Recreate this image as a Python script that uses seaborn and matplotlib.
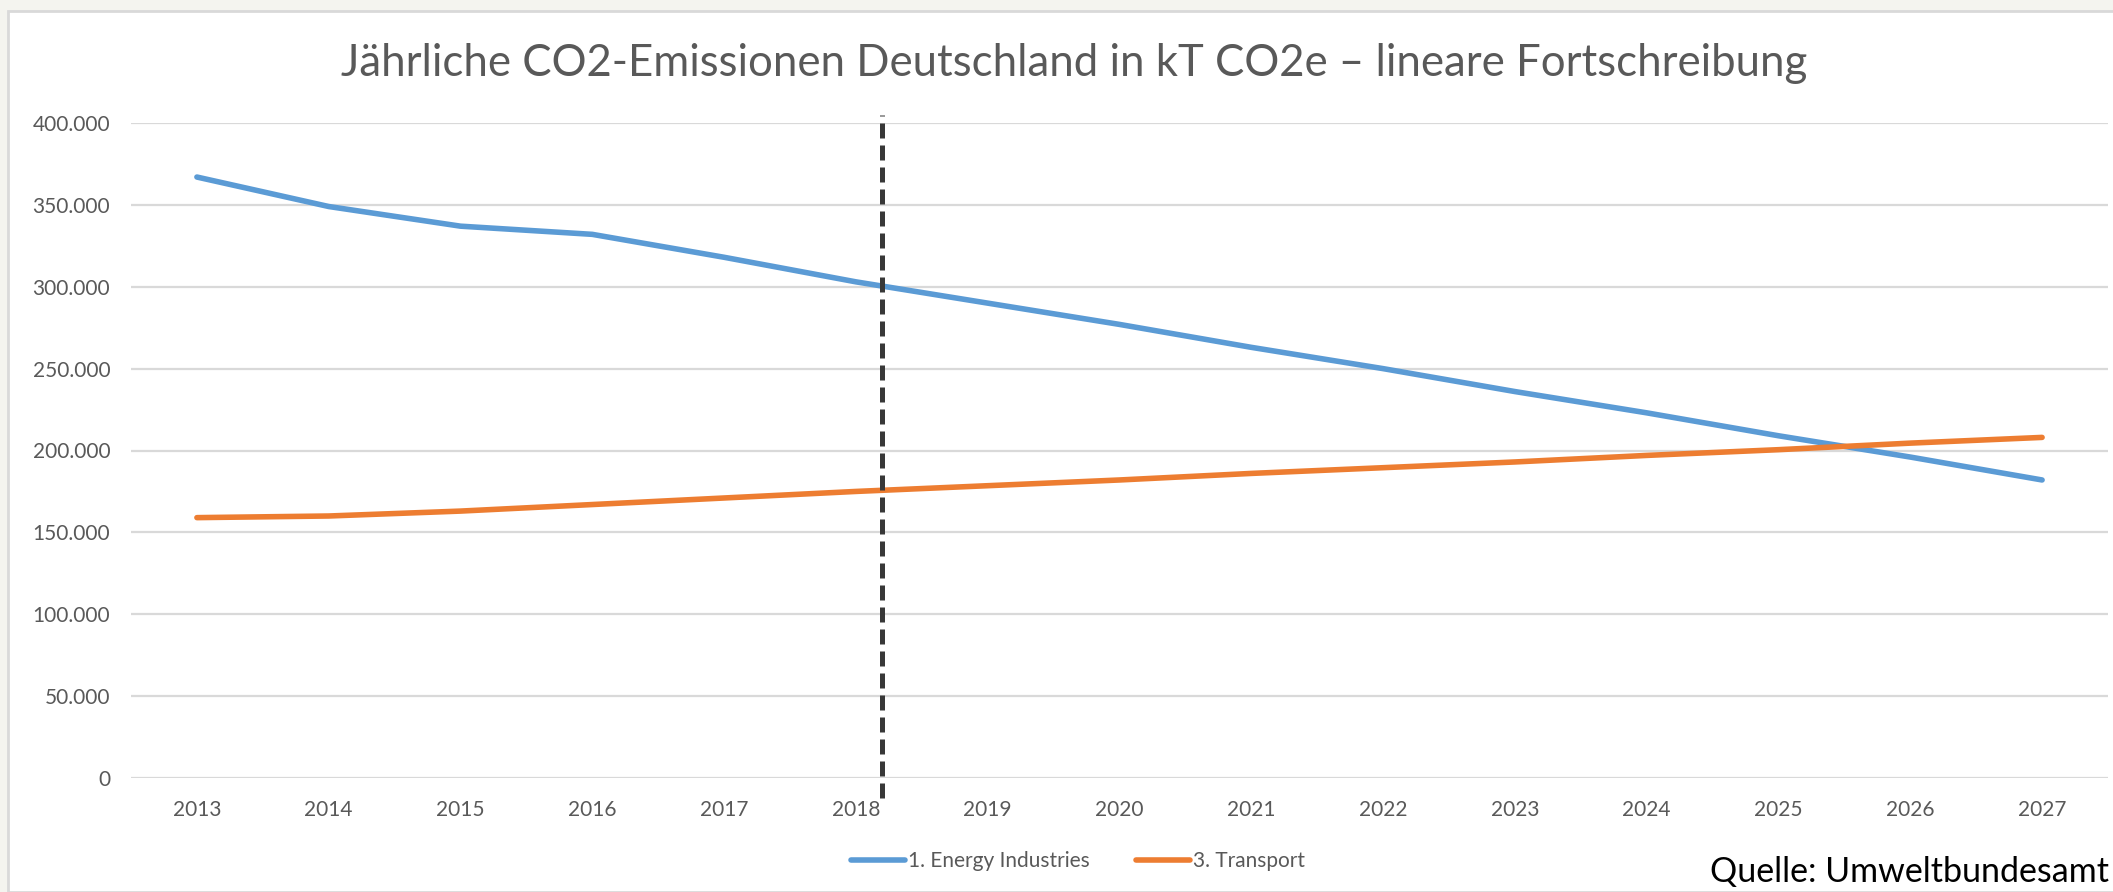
import pandas as pd
import numpy as np
import matplotlib.pyplot as plt
import matplotlib.patches as mpatches
import matplotlib.ticker as mticker
import seaborn as sns

# Jahre und Werte (kT CO2e), ab 2018 lineare Fortschreibung
years = [2013, 2014, 2015, 2016, 2017, 2018, 2019, 2020, 2021, 2022, 2023, 2024, 2025, 2026, 2027]
energy = [367000, 349000, 337000, 332000, 318000, 303000, 290000, 277000, 263000, 250000,
          236000, 223000, 209000, 196000, 182000]
transport = [159000, 160000, 163000, 167000, 171000, 175000, 178500, 182000, 186000, 189500,
             193000, 197000, 200500, 204500, 208000]
series_names = ["1. Energy Industries", "3. Transport"]
y_ticks = [0, 50000, 100000, 150000, 200000, 250000, 300000, 350000, 400000]
cut_year = 2018.2

df = pd.DataFrame({
    "Jahr": years * 2,
    "Emissionen": energy + transport,
    "Sektor": [series_names[0]] * len(years) + [series_names[1]] * len(years),
})

sns.set_style("white")
plt.rcParams['font.family'] = ['Lato', 'DejaVu Sans']

W, H = 2113, 892
fig = plt.figure(figsize=(W / 100, H / 100), dpi=100, facecolor="#f4f4ef")

# weisse Diagrammflaeche mit Rahmen
bg = mpatches.Rectangle((8 / W, 0), 1.2, 1 - 11 / H, transform=fig.transFigure,
                        facecolor="white", edgecolor="#d9d9d9", linewidth=2, zorder=-10)
fig.patches.append(bg)

ax = fig.add_axes([131 / W, 1 - 778 / H, (2108 - 131) / W, (778 - 123) / H])
ax.set_facecolor("none")
ax.set_zorder(2)

sns.lineplot(data=df, x="Jahr", y="Emissionen", hue="Sektor",
             palette={series_names[0]: "#5b9bd5", series_names[1]: "#ed7d31"},
             linewidth=4.0, ax=ax, legend=True, solid_capstyle="round")

# Trennlinie Ist / Fortschreibung
ax.axvline(cut_year, ymin=-0.03, ymax=1.012, color="#383838", linewidth=3.6,
           dashes=(3.0, 1.4), clip_on=False, zorder=5)

ax.set_xlim(2012.5, 2027.5)
ax.set_ylim(0, 400000)
ax.set_xticks(years)
ax.set_yticks(y_ticks)
ax.yaxis.set_major_formatter(mticker.FuncFormatter(lambda v, p: f"{int(v):,}".replace(",", ".")))
ax.grid(axis="y", color="#d9d9d9", linewidth=1.6)
ax.set_axisbelow(True)
for s in ax.spines.values():
    s.set_visible(False)
ax.tick_params(axis="x", length=0, pad=16, labelsize=15, labelcolor="#595959")
ax.tick_params(axis="y", length=0, pad=15, labelsize=15, labelcolor="#595959")
ax.set_xlabel("")
ax.set_ylabel("")

handles, labels = ax.get_legend_handles_labels()
ax.get_legend().remove()
leg = fig.legend(handles, labels, loc="center", bbox_to_anchor=(1078 / W, 1 - 861 / H),
                 ncol=2, frameon=False, fontsize=15, handlelength=2.6, handletextpad=0.15,
                 columnspacing=2.2)
for t in leg.get_texts():
    t.set_color("#595959")

fig.text(1074 / W, 1 - 63 / H, "Jährliche CO2-Emissionen Deutschland in kT CO2e – lineare Fortschreibung",
         ha="center", va="center", fontsize=31.5, color="#595959")
fig.text(2109 / W, 1 - 872 / H, "Quelle: Umweltbundesamt", ha="right", va="center",
         fontsize=24.5, color="black")

fig.savefig("out.png", dpi=100, facecolor=fig.get_facecolor())
